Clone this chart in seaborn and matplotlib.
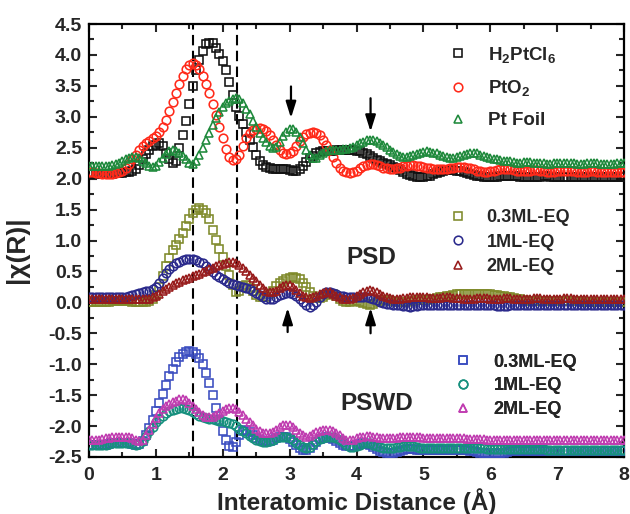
import numpy as np
import matplotlib
matplotlib.use("Agg")
import matplotlib.pyplot as plt
import seaborn as sns
from matplotlib.lines import Line2D
from matplotlib.ticker import MultipleLocator

# Radial distance grid (Å), 0.05 Å spacing
r_grid = np.round(np.arange(0, 8.0001, 0.05), 2)

# ---- Reference compounds (offset curves) ----
h2ptcl6 = [
    2.08, 2.08, 2.08, 2.08, 2.08, 2.08, 2.08, 2.08, 2.09, 2.09,
    2.09, 2.10, 2.10, 2.12, 2.15, 2.22, 2.31, 2.40, 2.47, 2.52,
    2.55, 2.57, 2.52, 2.42, 2.31, 2.26, 2.28, 2.50, 2.70, 2.93,
    3.20, 3.50, 3.75, 3.92, 4.07, 4.18, 4.20, 4.20, 4.12, 4.02,
    3.90, 3.76, 3.57, 3.36, 3.16, 3.02, 2.89, 2.75, 2.63, 2.51,
    2.39, 2.29, 2.22, 2.19, 2.17, 2.16, 2.16, 2.16, 2.15, 2.15,
    2.14, 2.13, 2.13, 2.16, 2.21, 2.27, 2.33, 2.37, 2.41, 2.43,
    2.44, 2.45, 2.45, 2.45, 2.46, 2.46, 2.46, 2.46, 2.46, 2.46,
    2.45, 2.44, 2.42, 2.40, 2.36, 2.33, 2.30, 2.28, 2.26, 2.24,
    2.22, 2.19, 2.17, 2.14, 2.11, 2.08, 2.06, 2.04, 2.03, 2.03,
    2.03, 2.04, 2.05, 2.07, 2.09, 2.11, 2.13, 2.14, 2.14, 2.14,
    2.13, 2.12, 2.11, 2.09, 2.07, 2.06, 2.05, 2.04, 2.03, 2.03,
    2.03, 2.03, 2.03, 2.04, 2.04, 2.05, 2.05, 2.04, 2.04, 2.03,
    2.03, 2.02, 2.02, 2.02, 2.03, 2.03, 2.04, 2.04, 2.03, 2.03,
    2.02, 2.02, 2.02, 2.03, 2.03, 2.03, 2.03, 2.02, 2.02, 2.02,
    2.02, 2.02, 2.03, 2.03, 2.03, 2.02, 2.02, 2.02, 2.02, 2.02,
    2.02,
]
pto2 = [
    2.10, 2.10, 2.09, 2.09, 2.08, 2.08, 2.08, 2.08, 2.09, 2.10,
    2.13, 2.17, 2.23, 2.31, 2.39, 2.46, 2.53, 2.58, 2.61, 2.65,
    2.69, 2.75, 2.84, 2.95, 3.09, 3.24, 3.39, 3.53, 3.66, 3.77,
    3.84, 3.87, 3.84, 3.77, 3.66, 3.53, 3.38, 3.21, 3.03, 2.84,
    2.65, 2.48, 2.35, 2.30, 2.31, 2.39, 2.52, 2.65, 2.74, 2.79,
    2.81, 2.82, 2.80, 2.77, 2.71, 2.63, 2.55, 2.47, 2.42, 2.40,
    2.41, 2.45, 2.52, 2.61, 2.68, 2.72, 2.74, 2.75, 2.74, 2.70,
    2.63, 2.55, 2.46, 2.35, 2.25, 2.17, 2.12, 2.10, 2.09, 2.10,
    2.13, 2.17, 2.20, 2.22, 2.23, 2.23, 2.22, 2.20, 2.18, 2.17,
    2.16, 2.16, 2.17, 2.18, 2.20, 2.21, 2.22, 2.22, 2.21, 2.20,
    2.19, 2.18, 2.17, 2.16, 2.16, 2.15, 2.15, 2.16, 2.17, 2.18,
    2.19, 2.19, 2.19, 2.18, 2.17, 2.15, 2.13, 2.12, 2.11, 2.11,
    2.12, 2.13, 2.14, 2.15, 2.16, 2.16, 2.15, 2.14, 2.13, 2.12,
    2.12, 2.12, 2.13, 2.14, 2.14, 2.13, 2.12, 2.11, 2.11, 2.11,
    2.12, 2.12, 2.13, 2.13, 2.12, 2.12, 2.11, 2.11, 2.11, 2.11,
    2.12, 2.12, 2.11, 2.11, 2.10, 2.10, 2.11, 2.11, 2.11, 2.10,
    2.10,
]
pt_foil = [
    2.20, 2.20, 2.20, 2.20, 2.20, 2.21, 2.21, 2.22, 2.23, 2.25,
    2.28, 2.31, 2.33, 2.35, 2.35, 2.33, 2.29, 2.25, 2.21, 2.19,
    2.21, 2.27, 2.34, 2.40, 2.44, 2.46, 2.45, 2.42, 2.37, 2.31,
    2.26, 2.24, 2.29, 2.38, 2.50, 2.62, 2.74, 2.86, 2.98, 3.08,
    3.16, 3.22, 3.26, 3.29, 3.31, 3.29, 3.22, 3.13, 3.04, 2.93,
    2.83, 2.74, 2.66, 2.59, 2.53, 2.50, 2.51, 2.59, 2.69, 2.76,
    2.81, 2.80, 2.75, 2.67, 2.57, 2.46, 2.38, 2.33, 2.34, 2.38,
    2.42, 2.45, 2.47, 2.47, 2.47, 2.47, 2.48, 2.48, 2.49, 2.51,
    2.54, 2.57, 2.60, 2.62, 2.63, 2.63, 2.61, 2.58, 2.55, 2.51,
    2.47, 2.43, 2.40, 2.37, 2.35, 2.35, 2.36, 2.38, 2.40, 2.42,
    2.43, 2.44, 2.43, 2.42, 2.41, 2.39, 2.37, 2.35, 2.34, 2.34,
    2.35, 2.37, 2.39, 2.40, 2.41, 2.41, 2.41, 2.39, 2.37, 2.35,
    2.33, 2.32, 2.31, 2.30, 2.29, 2.29, 2.28, 2.27, 2.26, 2.26,
    2.27, 2.27, 2.27, 2.26, 2.26, 2.25, 2.25, 2.24, 2.24, 2.25,
    2.25, 2.26, 2.26, 2.26, 2.25, 2.25, 2.24, 2.24, 2.24, 2.25,
    2.25, 2.25, 2.25, 2.24, 2.24, 2.24, 2.24, 2.24, 2.25, 2.25,
    2.25,
]

# ---- PSD samples ----
psd_03 = [
    0.00, 0.00, 0.00, 0.00, 0.00, 0.01, 0.01, 0.02, 0.02, 0.03,
    0.03, 0.03, 0.02, 0.01, 0.00, 0.00, 0.00, 0.01, 0.02, 0.05,
    0.12, 0.25, 0.42, 0.58, 0.72, 0.84, 0.93, 1.02, 1.12, 1.23,
    1.34, 1.44, 1.50, 1.52, 1.49, 1.44, 1.34, 1.17, 1.01, 0.87,
    0.73, 0.59, 0.44, 0.28, 0.16, 0.18, 0.26, 0.28, 0.24, 0.18,
    0.12, 0.09, 0.08, 0.09, 0.13, 0.19, 0.26, 0.31, 0.35, 0.38,
    0.40, 0.41, 0.40, 0.37, 0.32, 0.25, 0.17, 0.10, 0.07, 0.07,
    0.09, 0.12, 0.14, 0.13, 0.10, 0.06, 0.03, 0.01, 0.01, 0.02,
    0.02, 0.01, -0.01, -0.03, -0.04, -0.03, 0.00, 0.03, 0.04, 0.04,
    0.03, 0.02, 0.01, 0.00, 0.00, 0.01, 0.02, 0.03, 0.04, 0.04,
    0.04, 0.04, 0.05, 0.06, 0.07, 0.08, 0.09, 0.10, 0.11, 0.12,
    0.13, 0.13, 0.14, 0.14, 0.14, 0.14, 0.14, 0.13, 0.13, 0.13,
    0.13, 0.12, 0.12, 0.11, 0.10, 0.09, 0.08, 0.07, 0.06, 0.05,
    0.04, 0.03, 0.03, 0.02, 0.02, 0.02, 0.02, 0.02, 0.02, 0.02,
    0.02, 0.02, 0.02, 0.02, 0.02, 0.02, 0.02, 0.02, 0.01, 0.01,
    0.01, 0.01, 0.01, 0.01, 0.01, 0.01, 0.01, 0.01, 0.01, 0.01,
    0.01,
]
psd_1 = [
    0.08, 0.08, 0.08, 0.08, 0.08, 0.08, 0.08, 0.08, 0.08, 0.09,
    0.09, 0.09, 0.10, 0.12, 0.13, 0.15, 0.16, 0.18, 0.19, 0.22,
    0.25, 0.32, 0.40, 0.47, 0.54, 0.59, 0.63, 0.66, 0.68, 0.70,
    0.70, 0.70, 0.69, 0.66, 0.63, 0.59, 0.54, 0.49, 0.45, 0.41,
    0.38, 0.35, 0.32, 0.30, 0.28, 0.27, 0.25, 0.24, 0.21, 0.18,
    0.15, 0.12, 0.09, 0.06, 0.05, 0.06, 0.09, 0.12, 0.14, 0.15,
    0.15, 0.13, 0.10, 0.05, 0.00, -0.05, -0.07, -0.05, 0.01, 0.08,
    0.14, 0.17, 0.17, 0.15, 0.13, 0.11, 0.10, 0.09, 0.09, 0.08,
    0.08, 0.08, 0.08, 0.08, 0.07, 0.06, 0.04, 0.01, -0.01, -0.02,
    -0.03, -0.04, -0.05, -0.05, -0.06, -0.06, -0.07, -0.06, -0.06, -0.05,
    -0.05, -0.04, -0.04, -0.04, -0.04, -0.05, -0.05, -0.05, -0.05, -0.05,
    -0.05, -0.05, -0.05, -0.05, -0.05, -0.05, -0.05, -0.05, -0.05, -0.05,
    -0.05, -0.05, -0.06, -0.06, -0.06, -0.06, -0.05, -0.05, -0.05, -0.05,
    -0.05, -0.05, -0.05, -0.05, -0.05, -0.05, -0.05, -0.05, -0.05, -0.05,
    -0.05, -0.05, -0.05, -0.05, -0.05, -0.05, -0.05, -0.05, -0.05, -0.05,
    -0.05, -0.05, -0.05, -0.05, -0.05, -0.05, -0.05, -0.05, -0.05, -0.05,
    -0.05,
]
psd_2 = [
    0.05, 0.05, 0.05, 0.05, 0.05, 0.05, 0.05, 0.05, 0.05, 0.05,
    0.05, 0.05, 0.05, 0.05, 0.05, 0.05, 0.05, 0.05, 0.06, 0.08,
    0.11, 0.14, 0.18, 0.22, 0.25, 0.28, 0.31, 0.33, 0.36, 0.38,
    0.40, 0.42, 0.44, 0.46, 0.49, 0.51, 0.54, 0.56, 0.58, 0.60,
    0.62, 0.64, 0.65, 0.65, 0.64, 0.61, 0.56, 0.50, 0.45, 0.39,
    0.34, 0.28, 0.23, 0.19, 0.16, 0.16, 0.19, 0.23, 0.27, 0.28,
    0.28, 0.25, 0.20, 0.15, 0.11, 0.08, 0.07, 0.08, 0.10, 0.13,
    0.15, 0.16, 0.16, 0.14, 0.11, 0.08, 0.06, 0.05, 0.05, 0.07,
    0.10, 0.13, 0.16, 0.19, 0.20, 0.19, 0.17, 0.14, 0.11, 0.09,
    0.07, 0.06, 0.06, 0.06, 0.07, 0.07, 0.08, 0.08, 0.08, 0.08,
    0.08, 0.08, 0.07, 0.07, 0.07, 0.07, 0.08, 0.08, 0.08, 0.07,
    0.07, 0.07, 0.06, 0.06, 0.06, 0.06, 0.07, 0.07, 0.07, 0.07,
    0.06, 0.06, 0.06, 0.06, 0.07, 0.07, 0.07, 0.06, 0.06, 0.06,
    0.06, 0.06, 0.06, 0.07, 0.07, 0.07, 0.06, 0.06, 0.06, 0.06,
    0.06, 0.06, 0.07, 0.07, 0.07, 0.06, 0.06, 0.06, 0.06, 0.06,
    0.06, 0.06, 0.06, 0.06, 0.06, 0.06, 0.06, 0.06, 0.06, 0.06,
    0.06,
]

# ---- PSWD samples ----
pswd_03 = [
    -2.31, -2.31, -2.31, -2.31, -2.30, -2.30, -2.29, -2.28, -2.27, -2.27,
    -2.27, -2.27, -2.28, -2.29, -2.30, -2.29, -2.24, -2.14, -2.03, -1.90,
    -1.76, -1.62, -1.48, -1.33, -1.19, -1.07, -0.97, -0.89, -0.83, -0.80,
    -0.79, -0.80, -0.83, -0.90, -1.00, -1.14, -1.31, -1.50, -1.70, -1.90,
    -2.08, -2.22, -2.32, -2.34, -2.26, -2.15, -2.08, -2.06, -2.10, -2.15,
    -2.19, -2.22, -2.24, -2.25, -2.24, -2.22, -2.19, -2.17, -2.17, -2.18,
    -2.21, -2.26, -2.31, -2.35, -2.38, -2.39, -2.36, -2.30, -2.25, -2.21,
    -2.19, -2.18, -2.19, -2.21, -2.24, -2.27, -2.30, -2.32, -2.33, -2.32,
    -2.30, -2.29, -2.28, -2.29, -2.31, -2.34, -2.37, -2.40, -2.42, -2.43,
    -2.44, -2.44, -2.42, -2.40, -2.38, -2.37, -2.37, -2.37, -2.38, -2.38,
    -2.38, -2.38, -2.38, -2.38, -2.39, -2.39, -2.39, -2.39, -2.39, -2.39,
    -2.39, -2.39, -2.39, -2.39, -2.40, -2.41, -2.42, -2.43, -2.43, -2.44,
    -2.44, -2.44, -2.44, -2.44, -2.43, -2.42, -2.41, -2.40, -2.40, -2.40,
    -2.40, -2.40, -2.40, -2.40, -2.40, -2.40, -2.40, -2.40, -2.40, -2.40,
    -2.40, -2.40, -2.40, -2.40, -2.40, -2.40, -2.40, -2.40, -2.40, -2.40,
    -2.40, -2.40, -2.40, -2.40, -2.40, -2.40, -2.40, -2.40, -2.40, -2.40,
    -2.40,
]
pswd_1 = [
    -2.31, -2.31, -2.31, -2.31, -2.30, -2.30, -2.29, -2.28, -2.28, -2.28,
    -2.28, -2.28, -2.28, -2.29, -2.30, -2.29, -2.24, -2.16, -2.08, -2.01,
    -1.94, -1.88, -1.83, -1.79, -1.76, -1.74, -1.72, -1.71, -1.71, -1.72,
    -1.74, -1.77, -1.80, -1.83, -1.85, -1.87, -1.88, -1.89, -1.90, -1.91,
    -1.92, -1.93, -1.95, -1.97, -2.00, -2.04, -2.08, -2.12, -2.16, -2.19,
    -2.22, -2.24, -2.25, -2.25, -2.24, -2.22, -2.19, -2.17, -2.17, -2.17,
    -2.19, -2.23, -2.27, -2.31, -2.34, -2.36, -2.34, -2.29, -2.24, -2.21,
    -2.19, -2.17, -2.17, -2.18, -2.20, -2.23, -2.26, -2.30, -2.34, -2.34,
    -2.32, -2.30, -2.28, -2.28, -2.28, -2.30, -2.32, -2.34, -2.35, -2.36,
    -2.36, -2.35, -2.34, -2.34, -2.33, -2.33, -2.33, -2.33, -2.34, -2.35,
    -2.36, -2.36, -2.36, -2.36, -2.36, -2.36, -2.36, -2.36, -2.36, -2.36,
    -2.36, -2.36, -2.36, -2.36, -2.36, -2.36, -2.36, -2.36, -2.36, -2.37,
    -2.37, -2.37, -2.37, -2.37, -2.37, -2.37, -2.37, -2.37, -2.37, -2.37,
    -2.37, -2.37, -2.37, -2.37, -2.37, -2.37, -2.37, -2.38, -2.38, -2.38,
    -2.38, -2.38, -2.38, -2.38, -2.38, -2.38, -2.38, -2.38, -2.38, -2.38,
    -2.38, -2.38, -2.38, -2.38, -2.38, -2.38, -2.38, -2.38, -2.38, -2.38,
    -2.38,
]
pswd_2 = [
    -2.23, -2.23, -2.22, -2.22, -2.21, -2.20, -2.19, -2.18, -2.17, -2.17,
    -2.17, -2.17, -2.18, -2.20, -2.22, -2.24, -2.22, -2.15, -2.07, -1.97,
    -1.87, -1.79, -1.73, -1.68, -1.64, -1.61, -1.59, -1.57, -1.57, -1.58,
    -1.62, -1.67, -1.73, -1.78, -1.82, -1.85, -1.86, -1.85, -1.82, -1.79,
    -1.76, -1.73, -1.71, -1.71, -1.73, -1.77, -1.82, -1.88, -1.93, -1.99,
    -2.04, -2.08, -2.11, -2.12, -2.12, -2.10, -2.06, -2.02, -1.99, -1.98,
    -1.99, -2.02, -2.06, -2.11, -2.15, -2.17, -2.16, -2.13, -2.10, -2.08,
    -2.07, -2.06, -2.06, -2.08, -2.11, -2.15, -2.19, -2.22, -2.23, -2.22,
    -2.20, -2.18, -2.17, -2.16, -2.16, -2.17, -2.18, -2.19, -2.20, -2.20,
    -2.20, -2.20, -2.19, -2.18, -2.17, -2.17, -2.17, -2.17, -2.18, -2.18,
    -2.19, -2.19, -2.19, -2.19, -2.20, -2.20, -2.20, -2.20, -2.20, -2.20,
    -2.20, -2.20, -2.20, -2.21, -2.21, -2.21, -2.21, -2.21, -2.21, -2.22,
    -2.22, -2.22, -2.22, -2.22, -2.22, -2.22, -2.22, -2.22, -2.22, -2.22,
    -2.22, -2.22, -2.22, -2.22, -2.22, -2.22, -2.22, -2.22, -2.22, -2.22,
    -2.22, -2.22, -2.22, -2.22, -2.22, -2.22, -2.22, -2.22, -2.22, -2.22,
    -2.23, -2.23, -2.23, -2.23, -2.23, -2.23, -2.23, -2.23, -2.23, -2.23,
    -2.23,
]

# Legend labels per group
ref_labels = [r"$\mathbf{H_2PtCl_6}$", r"$\mathbf{PtO_2}$", "Pt Foil"]
sample_labels = ["0.3ML-EQ", "1ML-EQ", "2ML-EQ"]

# Guide lines (Å)
guide_lines = [1.55, 2.22]

sns.set_theme(style="ticks")
plt.rcParams["font.family"] = ["Liberation Sans", "DejaVu Sans"]
plt.rcParams["font.weight"] = "bold"
plt.rcParams["axes.unicode_minus"] = False
plt.rcParams["mathtext.fontset"] = "custom"
plt.rcParams["mathtext.rm"] = "Liberation Sans:bold"
plt.rcParams["mathtext.bf"] = "Liberation Sans:bold"
plt.rcParams["mathtext.it"] = "Liberation Sans:bold"

fig = plt.figure(figsize=(6.3, 5.14), dpi=100)
ax = fig.add_axes([0.1413, 0.1109, 0.8492, 0.8424])

MS = 6.2
MEW = 1.15

groups = [
    (ref_labels, [h2ptcl6, pto2, pt_foil],
     ["#111111", "#ff2a1a", "#1f8a3c"]),
    (sample_labels, [psd_03, psd_1, psd_2],
     ["#7f8a2a", "#2b2a8c", "#981c1c"]),
    (sample_labels, [pswd_03, pswd_1, pswd_2],
     ["#3a4cc0", "#17907e", "#c03cb0"]),
]
markers = ["s", "o", "^"]

for x in guide_lines:
    ax.axvline(x, color="black", lw=1.5, ls=(0, (5, 2.6)), zorder=1)

legend_handles = []
for labels, datasets, colors in groups:
    handles = []
    for lab, vals, col, mk in zip(labels, datasets, colors, markers):
        sns.lineplot(x=r_grid, y=np.asarray(vals), ax=ax, color=col,
                     marker=mk, linestyle="", markersize=MS,
                     markerfacecolor="none", markeredgecolor=col,
                     markeredgewidth=MEW, legend=False, zorder=3)
        handles.append(Line2D([], [], ls="", marker=mk, markersize=MS,
                              markerfacecolor="none", markeredgecolor=col,
                              markeredgewidth=MEW, label=lab))
    legend_handles.append(handles)

ax.set_xlim(0, 8)
ax.set_ylim(-2.5, 4.5)
ax.xaxis.set_major_locator(MultipleLocator(1))
ax.xaxis.set_minor_locator(MultipleLocator(0.5))
ax.yaxis.set_major_locator(MultipleLocator(0.5))
ax.yaxis.set_minor_locator(MultipleLocator(0.25))
ax.tick_params(which="both", direction="in", top=True, right=True,
               width=1.5, labelsize=14)
ax.tick_params(axis="x", which="major", length=6, pad=7)
ax.tick_params(axis="y", which="major", length=6, pad=5)
ax.tick_params(which="minor", length=3.5)
for lbl in ax.get_xticklabels() + ax.get_yticklabels():
    lbl.set_fontweight("bold")
for sp in ax.spines.values():
    sp.set_linewidth(1.6)
    sp.set_color("black")

ax.set_xlabel("Interatomic Distance (Å)", fontsize=17.5, fontweight="bold",
              labelpad=3)
ax.set_ylabel("|χ(R)|", fontsize=19, fontweight="bold")
ax.yaxis.set_label_coords(-0.112, 0.478)

# Arrows marking the Pt–Pt features
arrow_kw = dict(arrowstyle="-|>,head_length=0.7,head_width=0.22",
                color="black", lw=1.6, mutation_scale=14,
                shrinkA=0, shrinkB=0)
ax.annotate("", xy=(3.02, 2.98), xytext=(3.02, 3.49), arrowprops=arrow_kw)
ax.annotate("", xy=(4.21, 2.76), xytext=(4.21, 3.30), arrowprops=arrow_kw)
ax.annotate("", xy=(2.97, -0.09), xytext=(2.97, -0.48), arrowprops=arrow_kw)
ax.annotate("", xy=(4.21, -0.09), xytext=(4.21, -0.50), arrowprops=arrow_kw)

ax.text(4.22, 0.73, "PSD", fontsize=17.5, fontweight="bold",
        ha="center", va="center")
ax.text(4.30, -1.63, "PSWD", fontsize=17.5, fontweight="bold",
        ha="center", va="center")

leg_specs = [
    (0.6716, 0.8545, 0.72, 1.1, 13.5),
    (0.6736, 0.4965, 0.42, 1.05, 13),
    (0.6828, 0.1640, 0.38, 1.17, 13),
]
for handles, (lx, ly, lsp, tpad, fs) in zip(legend_handles, leg_specs):
    leg = ax.legend(handles=handles, loc="center left",
                    bbox_to_anchor=(lx, ly), frameon=False,
                    handlelength=1.0, handletextpad=tpad,
                    labelspacing=lsp, borderpad=0, borderaxespad=0,
                    prop={"weight": "bold", "size": fs})
    ax.add_artist(leg)

fig.savefig("out.png", dpi=100)
